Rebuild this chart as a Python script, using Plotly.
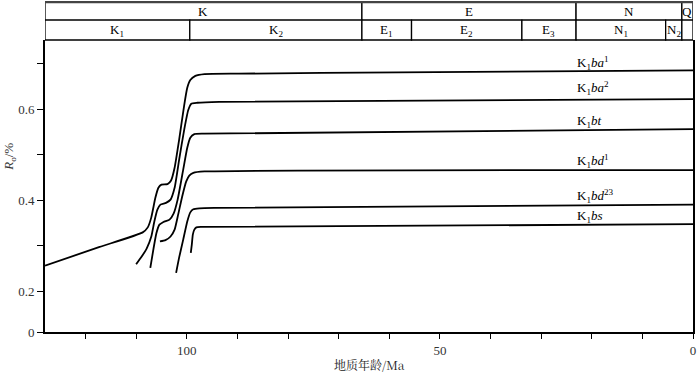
import plotly.graph_objects as go

# ---- data (age in Ma, Ro in %) ----
ba1_age = [128.0, 117.2, 108.7, 107.7, 107.0, 106.2, 105.6, 105.0, 103.8, 103.1, 102.4, 101.5, 100.5, 99.9, 99.3, 98.3, 96.5, 89.7, 58.2, 0.0]
ba1_ro = [0.256, 0.297, 0.329, 0.340, 0.362, 0.405, 0.427, 0.434, 0.435, 0.443, 0.471, 0.533, 0.609, 0.647, 0.664, 0.673, 0.677, 0.678, 0.681, 0.685]

ba2_age = [110.0, 108.9, 107.9, 107.0, 106.4, 105.8, 105.2, 104.1, 103.2, 102.4, 101.5, 100.5, 99.7, 99.1, 97.9, 93.6, 0.0]
ba2_ro = [0.259, 0.276, 0.294, 0.320, 0.353, 0.379, 0.390, 0.394, 0.401, 0.427, 0.489, 0.555, 0.598, 0.612, 0.614, 0.616, 0.622]

bt_age = [107.2, 106.6, 106.0, 105.4, 104.6, 103.4, 102.6, 101.8, 100.7, 99.9, 99.3, 98.5, 96.5, 0.0]
bt_ro = [0.251, 0.291, 0.327, 0.346, 0.352, 0.357, 0.370, 0.401, 0.467, 0.515, 0.537, 0.545, 0.546, 0.556]

bd1_age = [105.3, 104.2, 103.2, 102.4, 101.7, 100.9, 100.1, 99.5, 98.7, 96.5, 0.0]
bd1_ro = [0.309, 0.312, 0.320, 0.335, 0.368, 0.408, 0.441, 0.454, 0.460, 0.463, 0.466]

bd23_age = [102.1, 101.5, 100.7, 99.9, 99.3, 98.7, 97.5, 94.6, 0.0]
bd23_ro = [0.240, 0.274, 0.313, 0.353, 0.373, 0.380, 0.382, 0.383, 0.390]

bs_age = [99.2, 99.0, 98.8, 98.5, 98.1, 97.1, 0.0]
bs_ro = [0.284, 0.302, 0.324, 0.335, 0.340, 0.341, 0.347]

series_labels = ["K<sub>1</sub><i>ba</i><sup>1</sup>", "K<sub>1</sub><i>ba</i><sup>2</sup>",
                 "K<sub>1</sub><i>bt</i>", "K<sub>1</sub><i>bd</i><sup>1</sup>",
                 "K<sub>1</sub><i>bd</i><sup>23</sup>", "K<sub>1</sub><i>bs</i>"]
label_ro = [0.702, 0.647, 0.572, 0.487, 0.408, 0.364]
label_age = 23.4

# geologic time scale
period_names = ["K", "E", "N", "Q"]
period_bounds = [(128.0, 65.4), (65.4, 23.1), (23.1, 2.2), (2.2, 0.0)]
epoch_names = ["K<sub>1</sub>", "K<sub>2</sub>", "E<sub>1</sub>", "E<sub>2</sub>", "E<sub>3</sub>", "N<sub>1</sub>", "N<sub>2</sub>", ""]
epoch_bounds = [(128.0, 99.4), (99.4, 65.4), (65.4, 55.6), (55.6, 33.8), (33.8, 23.1), (23.1, 5.4), (5.4, 2.2), (2.2, 0.0)]

x_tickvals = [0, 10, 20, 30, 40, 50, 60, 70, 80, 90, 100, 110, 120]
x_ticktext = ["0", "", "", "", "", "50", "", "", "", "", "100", "", ""]
y_tickvals = [0.11, 0.2, 0.3, 0.4, 0.5, 0.6, 0.7]
y_ticktext = ["0", "0.2", "", "0.4", "", "0.6", ""]

SERIF = "Liberation Serif, Times New Roman, serif"

fig = go.Figure()
for ages, ros in [(ba1_age, ba1_ro), (ba2_age, ba2_ro), (bt_age, bt_ro),
                  (bd1_age, bd1_ro), (bd23_age, bd23_ro), (bs_age, bs_ro)]:
    fig.add_trace(go.Scatter(x=ages, y=ros, mode="lines",
                             line=dict(color="black", width=1.8, shape="spline", smoothing=0.5),
                             showlegend=False, hoverinfo="skip"))

for lab, r in zip(series_labels, label_ro):
    fig.add_annotation(x=label_age, y=r, xref="x", yref="y", text=lab, showarrow=False,
                       xanchor="left", yanchor="middle", font=dict(family=SERIF, size=13, color="black"))

# header rows (paper coords)
r1_lo, r1_hi = 1.0684, 1.130
r2_lo, r2_hi = 1.0, 1.0684
for name, (a, b) in zip(period_names, period_bounds):
    fig.add_shape(type="rect", xref="x", yref="paper", x0=a, x1=b, y0=r1_lo, y1=r1_hi,
                  line=dict(color="black", width=1.3), fillcolor="white", layer="above")
    fig.add_annotation(x=(a + b) / 2, y=(r1_lo + r1_hi) / 2, xref="x", yref="paper", text=name,
                       showarrow=False, xanchor="center", yanchor="middle",
                       font=dict(family=SERIF, size=13, color="black"))
for name, (a, b) in zip(epoch_names, epoch_bounds):
    fig.add_shape(type="rect", xref="x", yref="paper", x0=a, x1=b, y0=r2_lo, y1=r2_hi,
                  line=dict(color="black", width=1.3), fillcolor="white", layer="above")
    if name:
        fig.add_annotation(x=(a + b) / 2, y=(r2_lo + r2_hi) / 2, xref="x", yref="paper", text=name,
                           showarrow=False, xanchor="center", yanchor="middle",
                           font=dict(family=SERIF, size=13, color="black"))
fig.add_shape(type="line", xref="x", yref="paper", x0=128.0, x1=0.0, y0=r1_hi, y1=r1_hi,
              line=dict(color="#444", width=2.2), layer="above")

# axis titles
fig.add_annotation(x=-0.054, y=0.6, xref="paper", yref="paper", text="<i>R</i><sub>o</sub>/%",
                   textangle=-90, showarrow=False, xanchor="center", yanchor="middle",
                   font=dict(family=SERIF, size=13, color="#333"))
fig.add_annotation(x=0.5, y=-0.112, xref="paper", yref="paper", text="地质年龄/Ma",
                   showarrow=False, xanchor="center", yanchor="middle",
                   font=dict(family="Noto Serif CJK SC, Noto Sans CJK SC, " + SERIF, size=12, color="#222"))

fig.update_layout(
    width=700, height=374,
    margin=dict(l=45, r=4, t=40, b=41.5),
    plot_bgcolor="white", paper_bgcolor="white",
    xaxis=dict(range=[128.0, 0.0], tickvals=x_tickvals, ticktext=x_ticktext,
               ticks="outside", ticklen=5, tickwidth=1.2, tickcolor="black",
               showline=True, linecolor="black", linewidth=2, showgrid=False, zeroline=False,
               tickfont=dict(family=SERIF, size=13, color="#333")),
    yaxis=dict(range=[0.11, 0.752], tickvals=y_tickvals, ticktext=y_ticktext,
               ticks="outside", ticklen=6, tickwidth=1.2, tickcolor="black",
               showline=True, linecolor="black", linewidth=1.6, mirror=True,
               showgrid=False, zeroline=False,
               tickfont=dict(family=SERIF, size=13, color="#333")),
)

fig.write_html("out.html", config={"displayModeBar": False},
               post_script="document.body.style.margin='0';document.body.style.padding='0';")
